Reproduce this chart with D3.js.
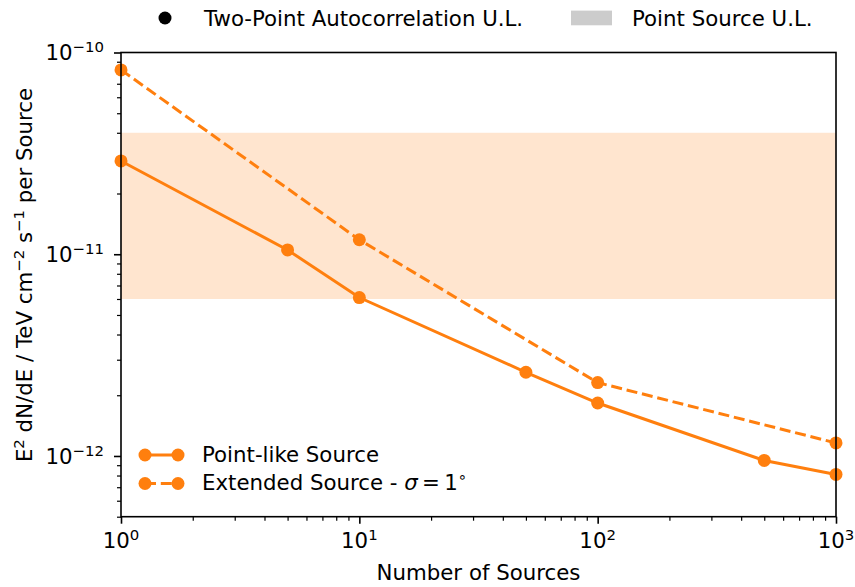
<!DOCTYPE html>
<html>
<head>
<meta charset="utf-8">
<script src="https://cdn.jsdelivr.net/npm/d3@7"></script>
<style>
  html, body { margin: 0; padding: 0; background: #fff; }
  svg { display: block; font-family: "DejaVu Sans", sans-serif; }
</style>
</head>
<body>
<svg id="chart" width="855" height="587"></svg>
<script>
// Upper limits per source vs. number of sources
const nPoint = [1, 5, 10, 50, 100, 500, 1000];
const pointLike = [2.9e-11, 1.05e-11, 6.1e-12, 2.6e-12, 1.83e-12, 9.5e-13, 8.1e-13];
const nExtended = [1, 10, 100, 1000];
const extended = [8.2e-11, 1.18e-11, 2.31e-12, 1.16e-12];
// Point-source upper-limit band (low, high)
const bandRange = [6e-12, 4e-11];
const xTickExps = [0, 1, 2, 3];
const yTickExps = [-10, -11, -12];
const seriesNames = ["Point-like Source", "Extended Source - "];
const topLegendNames = ["Two-Point Autocorrelation U.L.", "Point Source U.L."];

const orange = "#ff7f0e";
const fs = 21.3;

const svg = d3.select("#chart");
const pLeft = 121, pRight = 836, pTop = 52.5, pBottom = 516.7;

const x = d3.scaleLog().domain([1, 1000]).range([pLeft, pRight]);
const y = d3.scaleLog().domain([5e-13, 1e-10]).range([pBottom, pTop]);

// shaded band
svg.append("rect")
  .attr("x", x(1)).attr("width", x(1000) - x(1))
  .attr("y", y(bandRange[1])).attr("height", y(bandRange[0]) - y(bandRange[1]))
  .attr("fill", "rgb(255,229,207)");

// minor ticks
const minorX = [];
for (let e = 0; e < 3; e++) for (let m = 2; m <= 9; m++) minorX.push(m * Math.pow(10, e));
const minorY = [];
for (let e = -13; e < -10; e++) for (let m = 2; m <= 9; m++) {
  const v = m * Math.pow(10, e);
  if (v >= 5e-13 && v <= 1e-10) minorY.push(v);
}

svg.append("g").attr("transform", `translate(0,${pBottom})`)
  .call(d3.axisBottom(x).tickValues(minorX).tickSize(4).tickFormat(""))
  .call(g => g.select(".domain").remove())
  .call(g => g.selectAll("line").attr("stroke-width", 1.2));
svg.append("g").attr("transform", `translate(0,${pBottom})`)
  .call(d3.axisBottom(x).tickValues(xTickExps.map(e => Math.pow(10, e))).tickSize(7).tickFormat(""))
  .call(g => g.select(".domain").remove())
  .call(g => g.selectAll("line").attr("stroke-width", 1.6));
svg.append("g").attr("transform", `translate(${pLeft},0)`)
  .call(d3.axisLeft(y).tickValues(minorY).tickSize(4).tickFormat(""))
  .call(g => g.select(".domain").remove())
  .call(g => g.selectAll("line").attr("stroke-width", 1.2));
svg.append("g").attr("transform", `translate(${pLeft},0)`)
  .call(d3.axisLeft(y).tickValues(yTickExps.map(e => Math.pow(10, e))).tickSize(7).tickFormat(""))
  .call(g => g.select(".domain").remove())
  .call(g => g.selectAll("line").attr("stroke-width", 1.6));

// tick labels as 10^n
function powLabel(sel, exp) {
  sel.append("tspan").text("10");
  sel.append("tspan").attr("dy", -8).attr("font-size", fs * 0.7)
    .text(exp < 0 ? "\u2212" + (-exp) : String(exp));
}
xTickExps.forEach(e => {
  const t = svg.append("text").attr("x", x(Math.pow(10, e))).attr("y", 548)
    .attr("text-anchor", "middle").attr("font-size", fs);
  powLabel(t, e);
});
yTickExps.forEach(e => {
  const t = svg.append("text").attr("x", 104).attr("y", y(Math.pow(10, e)) + 7.6)
    .attr("text-anchor", "end").attr("font-size", fs);
  powLabel(t, e);
});

// lines
const line = d3.line().x(d => x(d[0])).y(d => y(d[1]));
const ptData = nPoint.map((n, i) => [n, pointLike[i]]);
const exData = nExtended.map((n, i) => [n, extended[i]]);

const plot = svg.append("g");
plot.append("path").datum(ptData).attr("d", line)
  .attr("fill", "none").attr("stroke", orange).attr("stroke-width", 3);
plot.append("path").datum(exData).attr("d", line)
  .attr("fill", "none").attr("stroke", orange).attr("stroke-width", 3)
  .attr("stroke-dasharray", "11,4.8");
plot.selectAll(".pt").data(ptData).enter().append("circle")
  .attr("cx", d => x(d[0])).attr("cy", d => y(d[1])).attr("r", 6.5).attr("fill", orange);
plot.selectAll(".ex").data(exData).enter().append("circle")
  .attr("cx", d => x(d[0])).attr("cy", d => y(d[1])).attr("r", 6.5).attr("fill", orange);

// frame
svg.append("rect").attr("x", pLeft).attr("y", pTop)
  .attr("width", pRight - pLeft).attr("height", pBottom - pTop)
  .attr("fill", "none").attr("stroke", "#000").attr("stroke-width", 1.6);

// axis labels
svg.append("text").attr("x", (pLeft + pRight) / 2).attr("y", 580)
  .attr("text-anchor", "middle").attr("font-size", fs).text("Number of Sources");

const yl = svg.append("text")
  .attr("transform", `translate(32,275) rotate(-90)`)
  .attr("text-anchor", "middle").attr("font-size", fs);
yl.append("tspan").text("E");
yl.append("tspan").attr("dy", -8).attr("font-size", fs * 0.7).text("2");
yl.append("tspan").attr("dy", 8).text(" dN/dE / TeV cm");
yl.append("tspan").attr("dy", -8).attr("font-size", fs * 0.7).text("\u22122");
yl.append("tspan").attr("dy", 8).text(" s");
yl.append("tspan").attr("dy", -8).attr("font-size", fs * 0.7).text("\u22121");
yl.append("tspan").attr("dy", 8).text(" per Source");

// legend inside plot
const lg = svg.append("g");
[[0, null], [1, "11,4.8"]].forEach(([i, dash]) => {
  const cy = 455 + i * 28.5;
  lg.append("line").attr("x1", 145).attr("x2", 178).attr("y1", cy).attr("y2", cy)
    .attr("stroke", orange).attr("stroke-width", 3)
    .attr("stroke-dasharray", dash);
  lg.append("circle").attr("cx", 145).attr("cy", cy).attr("r", 6.5).attr("fill", orange);
  lg.append("circle").attr("cx", 178).attr("cy", cy).attr("r", 6.5).attr("fill", orange);
  const t = lg.append("text").attr("x", 202).attr("y", cy + 6.5).attr("font-size", fs);
  t.append("tspan").text(seriesNames[i]);
  if (i === 1) {
    t.append("tspan").attr("font-style", "italic").text("\u03c3");
    t.append("tspan").text("\u2009=\u20091");
    t.append("tspan").attr("dy", -8).attr("font-size", fs * 0.7).text("\u2218");
  }
});

// legend above the plot
const tl = svg.append("g");
tl.append("circle").attr("cx", 165).attr("cy", 18).attr("r", 6.5).attr("fill", "#000");
tl.append("text").attr("x", 204).attr("y", 25.6).attr("font-size", fs).text(topLegendNames[0]);
tl.append("rect").attr("x", 571).attr("y", 10.6).attr("width", 41).attr("height", 14.7).attr("fill", "#cccccc");
tl.append("text").attr("x", 632).attr("y", 25.6).attr("font-size", fs).text(topLegendNames[1]);
</script>
</body>
</html>
